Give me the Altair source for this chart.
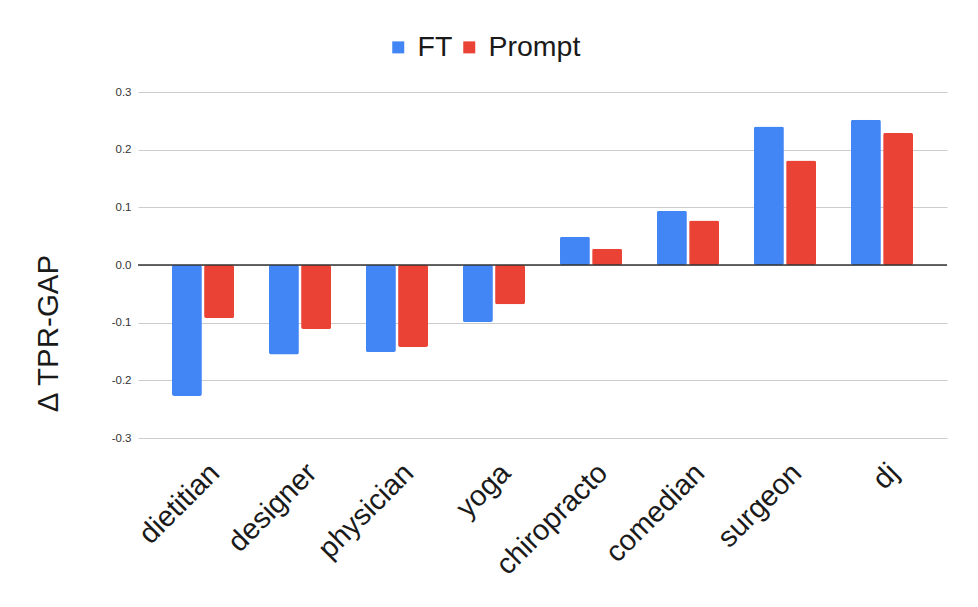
import altair as alt
import pandas as pd

categories = ["dietitian", "designer", "physician", "yoga", "chiropracto", "comedian", "surgeon", "dj"]
ft_values = [-0.227, -0.155, -0.151, -0.099, 0.049, 0.094, 0.240, 0.252]
prompt_values = [-0.092, -0.111, -0.142, -0.068, 0.028, 0.077, 0.181, 0.229]
series = ["FT", "Prompt"]
colors = ["#4285F4", "#EA4335"]

rows = []
for c, f, p in zip(categories, ft_values, prompt_values):
    rows.append({"category": c, "series": "FT", "value": f})
    rows.append({"category": c, "series": "Prompt", "value": p})
df = pd.DataFrame(rows)

FONT = "Liberation Sans"

bars = alt.Chart(df).mark_bar(cornerRadius=2).encode(
    x=alt.X("category:N", sort=categories,
            scale=alt.Scale(paddingInner=0.36, paddingOuter=0.35),
            axis=alt.Axis(title=None, labelAngle=-45, labelAlign="right", labelBaseline="top",
                          labelFontSize=29, labelFont=FONT, labelColor="#1a1a1a",
                          ticks=False, domain=False, labelPadding=20, labelOffset=2)),
    xOffset=alt.XOffset("series:N", sort=series, scale=alt.Scale(paddingInner=0.07)),
    y=alt.Y("value:Q", scale=alt.Scale(domain=[-0.3, 0.3], nice=False),
            axis=alt.Axis(title="Δ TPR-GAP", values=[-0.3, -0.2, -0.1, 0.0, 0.1, 0.2, 0.3],
                          labelExpr="replace(format(datum.value, '.1f'), '\u2212', '-')",
                          labelFontSize=11.5, labelFont=FONT, labelColor="#333", labelPadding=7,
                          ticks=False, domain=False, gridColor="#cccccc",
                          titleFontSize=29.5, titleFont=FONT, titleFontWeight="normal", titleColor="#1a1a1a",
                          titleAngle=-90, titleBaseline="alphabetic", titleAlign="center",
                          titleX=-81, titleY=241)),
    color=alt.Color("series:N", sort=series,
                    scale=alt.Scale(domain=series, range=colors),
                    legend=alt.Legend(title=None, orient="none", direction="horizontal",
                                      legendX=246, legendY=-59, padding=0,
                                      symbolType="square", symbolSize=144, symbolStrokeWidth=0,
                                      labelFontSize=28.5, labelFont=FONT, labelColor="#1a1a1a",
                                      labelOffset=5, columnPadding=2)),
)

zero = alt.Chart(pd.DataFrame({"zero": [0.0]})).mark_rule(color="#333333", strokeWidth=1.3).encode(
    y="zero:Q"
)

chart = alt.layer(bars, zero).properties(
    width=809, height=346,
    autosize=alt.AutoSizeParams(type="none"),
    padding={"left": 130, "top": 84, "right": 23, "bottom": 161},
).configure(background="white").configure_view(stroke=None)

chart.save("out.html", embed_options={"renderer": "svg", "actions": False})
